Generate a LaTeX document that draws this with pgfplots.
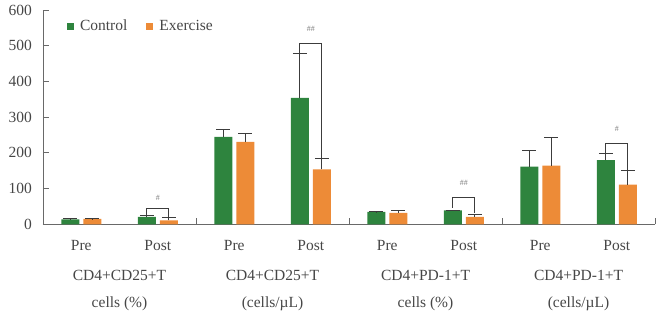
\documentclass[border=0pt]{standalone}
\usepackage{pgfplots}
\pgfplotsset{compat=1.18}
\usepackage{fontspec}
\setmainfont{Liberation Serif}
\definecolor{cgreen}{RGB}{46,132,62}
\definecolor{corange}{RGB}{237,139,55}
\definecolor{axgray}{RGB}{105,105,105}
\definecolor{txtgray}{RGB}{70,70,70}
\definecolor{errc}{RGB}{60,60,60}
\begin{document}
\begin{tikzpicture}
\begin{axis}[
  at={(0pt,0pt)}, anchor=south west,
  scale only axis, width=612pt, height=214.3pt,
  xmin=-0.5, xmax=7.5, ymin=0, ymax=600,
  ybar=4pt, bar width=18pt,
  clip=false,
  /pgf/number format/assume math mode=true,
  axis x line*=bottom, axis y line*=left,
  axis line style={axgray, line width=0.8pt},
  tick align=inside, major tick length=6pt,
  tick style={axgray, line width=0.8pt},
  ytick={0,100,...,600},
  xtick={1.5,3.5,5.5,7.5}, xticklabels={},
  extra x ticks={0,1,2,3,4,5,6,7},
  extra x tick labels={Pre,Post,Pre,Post,Pre,Post,Pre,Post},
  extra x tick style={major tick length=0pt, tick style={draw=none}},
  xticklabel style={anchor=base, yshift=-26.4pt, inner sep=0pt, font=\fontsize{15.5}{18}\selectfont, text=txtgray},
  yticklabel style={anchor=east, inner sep=0pt, xshift=-11pt, font=\fontsize{15.5}{18}\selectfont, text=txtgray},
  legend style={at={(axis description cs:0.039,0.925)}, anchor=west, draw=none, fill=none,
    inner sep=0pt, font=\fontsize{15.5}{18}\selectfont, text=txtgray,
    nodes={inner sep=0pt}},
  legend columns=2,
  legend image code/.code={\fill[#1,draw=none] (0pt,-3.5pt) rectangle (7pt,3.5pt);},
  /tikz/every odd column/.append style={column sep=6pt},
  /tikz/every even column/.append style={column sep=19pt},
]
\addplot[fill=cgreen, draw=none,
  error bars/.cd, y dir=plus, y explicit,
  error bar style={errc, line width=0.9pt},
  error mark options={errc, line width=0.9pt, mark size=7pt, rotate=90}]
coordinates {
  (0,14) +- (0,1)
  (1,20.5) +- (0,4.5)
  (2,245) +- (0,21)
  (3,354) +- (0,123)
  (4,34.5) +- (0,1)
  (5,39) +- (0,1)
  (6,161.5) +- (0,46)
  (7,180) +- (0,17)
};
\addlegendentry{Control}
\addplot[fill=corange, draw=none,
  error bars/.cd, y dir=plus, y explicit,
  error bar style={errc, line width=0.9pt},
  error mark options={errc, line width=0.9pt, mark size=7pt, rotate=90}]
coordinates {
  (0,15) +- (0,1)
  (1,11) +- (0,7)
  (2,231) +- (0,23)
  (3,154) +- (0,30)
  (4,32) +- (0,7)
  (5,20.5) +- (0,7.5)
  (6,164) +- (0,79)
  (7,111) +- (0,39)
};
\addlegendentry{Exercise}

% significance brackets
\draw[errc, line width=0.9pt] ([xshift=-11pt]axis cs:1,25) -- ([xshift=-11pt]axis cs:1,44) -- ([xshift=11pt]axis cs:1,44) -- ([xshift=11pt]axis cs:1,18);
\draw[errc, line width=0.9pt] ([xshift=-11pt]axis cs:3,477) -- ([xshift=-11pt]axis cs:3,507) -- ([xshift=11pt]axis cs:3,507) -- ([xshift=11pt]axis cs:3,184);
\draw[errc, line width=0.9pt] ([xshift=-11pt]axis cs:5,46) -- ([xshift=-11pt]axis cs:5,76) -- ([xshift=11pt]axis cs:5,76) -- ([xshift=11pt]axis cs:5,33);
\draw[errc, line width=0.9pt] ([xshift=-11pt]axis cs:7,197) -- ([xshift=-11pt]axis cs:7,225) -- ([xshift=11pt]axis cs:7,225) -- ([xshift=11pt]axis cs:7,150);
\node[font=\fontsize{8}{9}\selectfont, text=gray] at (axis cs:1,74) {\#};
\node[font=\fontsize{8}{9}\selectfont, text=gray] at (axis cs:3,547) {\#\#};
\node[font=\fontsize{8}{9}\selectfont, text=gray] at (axis cs:5,117) {\#\#};
\node[font=\fontsize{8}{9}\selectfont, text=gray] at (axis cs:7,266) {\#};

% category labels
\begin{scope}[every node/.style={anchor=base, inner sep=0pt, font=\fontsize{15.5}{18}\selectfont, text=txtgray}]
\node[yshift=-55.7pt] at (axis cs:0.5,0) {CD4+CD25+T};
\node[yshift=-82.7pt] at (axis cs:0.5,0) {cells (\%)};
\node[yshift=-55.7pt] at (axis cs:2.5,0) {CD4+CD25+T};
\node[yshift=-82.7pt] at (axis cs:2.5,0) {(cells/µL)};
\node[yshift=-55.7pt] at (axis cs:4.5,0) {CD4+PD-1+T};
\node[yshift=-82.7pt] at (axis cs:4.5,0) {cells (\%)};
\node[yshift=-55.7pt] at (axis cs:6.5,0) {CD4+PD-1+T};
\node[yshift=-82.7pt] at (axis cs:6.5,0) {(cells/µL)};
\end{scope}
\end{axis}
\pgfresetboundingbox
\path (-43pt,-86.7pt) rectangle (617pt,224.3pt);
\end{tikzpicture}
\end{document}
